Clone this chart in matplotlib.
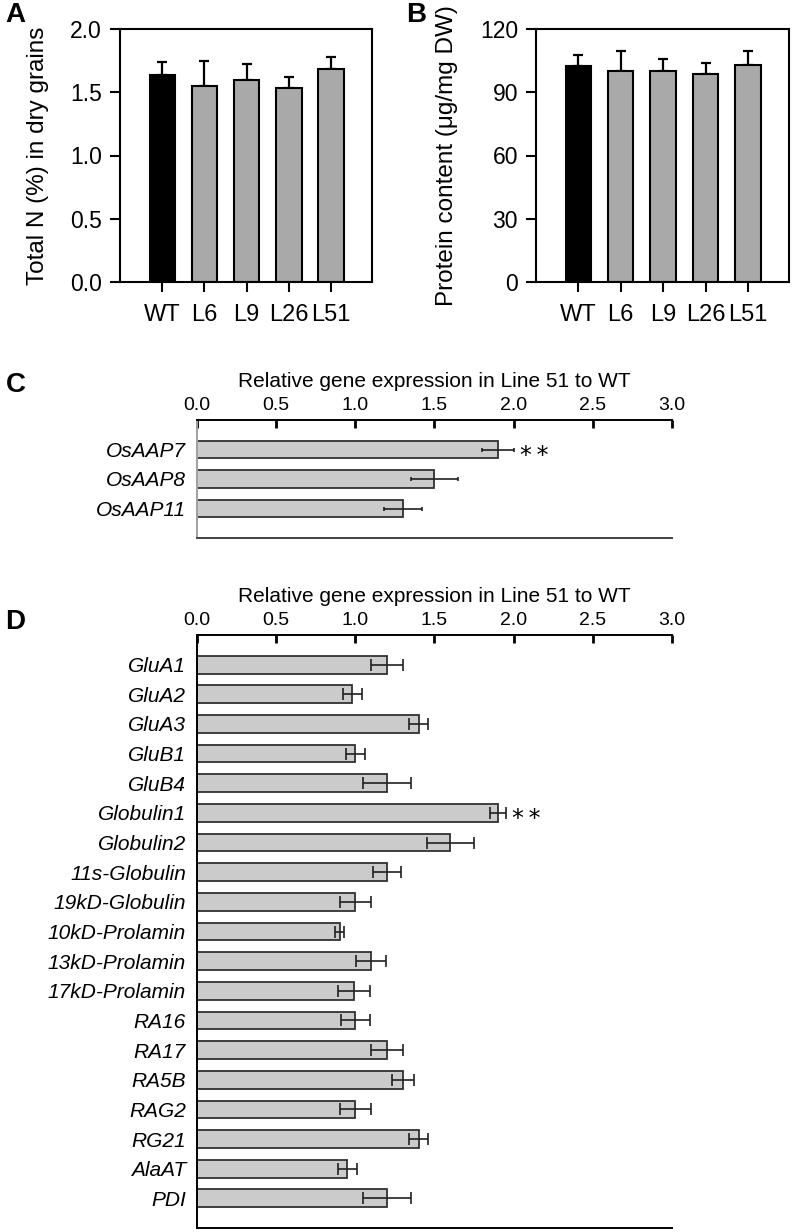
import numpy as np
from matplotlib import pyplot as plt

plt.rcParams["font.family"] = ["Liberation Sans", "DejaVu Sans"]
plt.rcParams["figure.dpi"] = 100

# panels A and B
lines = ["WT", "L6", "L9", "L26", "L51"]
total_n = [1.64, 1.55, 1.60, 1.53, 1.68]
total_n_err = [0.10, 0.20, 0.12, 0.09, 0.10]
protein = [102.5, 100.0, 100.0, 98.5, 103.0]
protein_err = [5.2, 9.7, 5.8, 5.2, 6.6]

# panel C
aap_genes = ["OsAAP7", "OsAAP8", "OsAAP11"]
aap_expr = [1.90, 1.50, 1.30]
aap_err = [0.10, 0.15, 0.12]
aap_signif = ["**", "", ""]

# panel D
storage_genes = ["GluA1", "GluA2", "GluA3", "GluB1", "GluB4", "Globulin1", "Globulin2",
                 "11s-Globulin", "19kD-Globulin", "10kD-Prolamin", "13kD-Prolamin",
                 "17kD-Prolamin", "RA16", "RA17", "RA5B", "RAG2", "RG21", "AlaAT", "PDI"]
storage_expr = [1.20, 0.98, 1.40, 1.00, 1.20, 1.90, 1.60, 1.20, 1.00, 0.90, 1.10,
                0.99, 1.00, 1.20, 1.30, 1.00, 1.40, 0.95, 1.20]
storage_err = [0.10, 0.06, 0.06, 0.06, 0.15, 0.05, 0.15, 0.09, 0.10, 0.03, 0.095,
               0.10, 0.09, 0.10, 0.07, 0.10, 0.06, 0.06, 0.15]
storage_signif = ["", "", "", "", "", "**", "", "", "", "", "", "", "", "", "", "", "", "", ""]

W, H = 792, 1232
fig = plt.figure(figsize=(W / 100, H / 100), dpi=100)


def box(left, top, right, bottom):
    # pixel box -> figure fraction
    return [left / W, 1 - bottom / H, (right - left) / W, (bottom - top) / H]


def plot_lines(ax, values, errors, ylim, yticks, ticklabels, ylabel, label_x):
    x = np.arange(len(lines))
    colors = ["black"] + ["#a9a9a9"] * (len(lines) - 1)
    ax.errorbar(x, values, yerr=[np.zeros(len(values)), errors], fmt="none",
                ecolor="black", elinewidth=1.6, capsize=3.6, capthick=1.6, zorder=1)
    ax.bar(x, values, width=0.6, color=colors, edgecolor="black", linewidth=1.5, zorder=2)
    ax.set_xlim(-1.0, 4.97)
    ax.set_ylim(*ylim)
    ax.set_xticks(x)
    ax.set_xticklabels(lines)
    ax.set_yticks(yticks)
    ax.set_yticklabels(ticklabels)
    ax.tick_params(axis="x", direction="out", length=7, width=1.5, pad=9, labelsize=17)
    ax.tick_params(axis="y", direction="out", length=7, width=1.5, pad=6, labelsize=16.5)
    for sp in ax.spines.values():
        sp.set_linewidth(1.5)
    ax.set_ylabel(ylabel, fontsize=17.5)
    ax.yaxis.set_label_coords(label_x, 0.5)


def plot_expression(ax, genes, values, errors, signif, capsize):
    y = np.arange(len(genes))
    ax.barh(y, values, height=0.6, color="#cbcbcb", edgecolor="#303030", linewidth=1.3, zorder=2)
    ax.errorbar(values, y, xerr=errors, fmt="none", ecolor="#202020", elinewidth=1.2,
                capsize=capsize, capthick=1.2, zorder=3)
    for yi, v, e, s in zip(y, values, errors, signif):
        if s:
            ax.text(v + e + 0.04, yi + 0.45, "*\u2009*", ha="left", va="baseline",
                    fontsize=17, family="DejaVu Sans")
    ax.set_xlim(0, 3)
    ax.set_ylim(len(genes), -1)
    ax.set_yticks(y)
    ax.set_yticklabels(genes, fontstyle="italic", fontsize=15)
    ax.xaxis.tick_top()
    ax.xaxis.set_label_position("top")
    ticks = np.arange(0, 3.01, 0.5)
    ax.set_xticks(ticks)
    ax.set_xticklabels([f"{t:.1f}" for t in ticks])
    ax.tick_params(axis="x", direction="in", length=6, width=2, pad=4.5, labelsize=14)
    ax.tick_params(axis="y", length=0, pad=8)
    ax.set_xlabel("Relative gene expression in Line 51 to WT", fontsize=15, labelpad=7)
    ax.spines["right"].set_visible(False)
    for sp in ["top", "left", "bottom"]:
        ax.spines[sp].set_linewidth(1.4)


ax_a = fig.add_axes(box(120, 29, 372, 282))
plot_lines(ax_a, total_n, total_n_err, (0, 2.0), [0, 0.5, 1.0, 1.5, 2.0],
           ["0.0", "0.5", "1.0", "1.5", "2.0"], "Total N (%) in dry grains", -0.28)

ax_b = fig.add_axes(box(536, 29, 789, 282))
plot_lines(ax_b, protein, protein_err, (0, 120), [0, 30, 60, 90, 120],
           ["0", "30", "60", "90", "120"], "Protein content (\u03bcg/mg DW)", -0.31)

ax_c = fig.add_axes(box(197, 420, 672, 538))
plot_expression(ax_c, aap_genes, aap_expr, aap_err, aap_signif, capsize=1.6)
ax_c.spines["left"].set_color("#a0a0a0")
ax_c.spines["bottom"].set_color("#404040")

ax_d = fig.add_axes(box(197, 635, 672, 1228))
plot_expression(ax_d, storage_genes, storage_expr, storage_err, storage_signif, capsize=4.2)

for letter, px, py in [("A", 5, 2), ("B", 406, 2), ("C", 6, 372), ("D", 5, 609)]:
    fig.text(px / W, 1 - py / H, letter, fontsize=20, fontweight="bold", ha="left", va="top")

fig.savefig("out.png", dpi=100)
